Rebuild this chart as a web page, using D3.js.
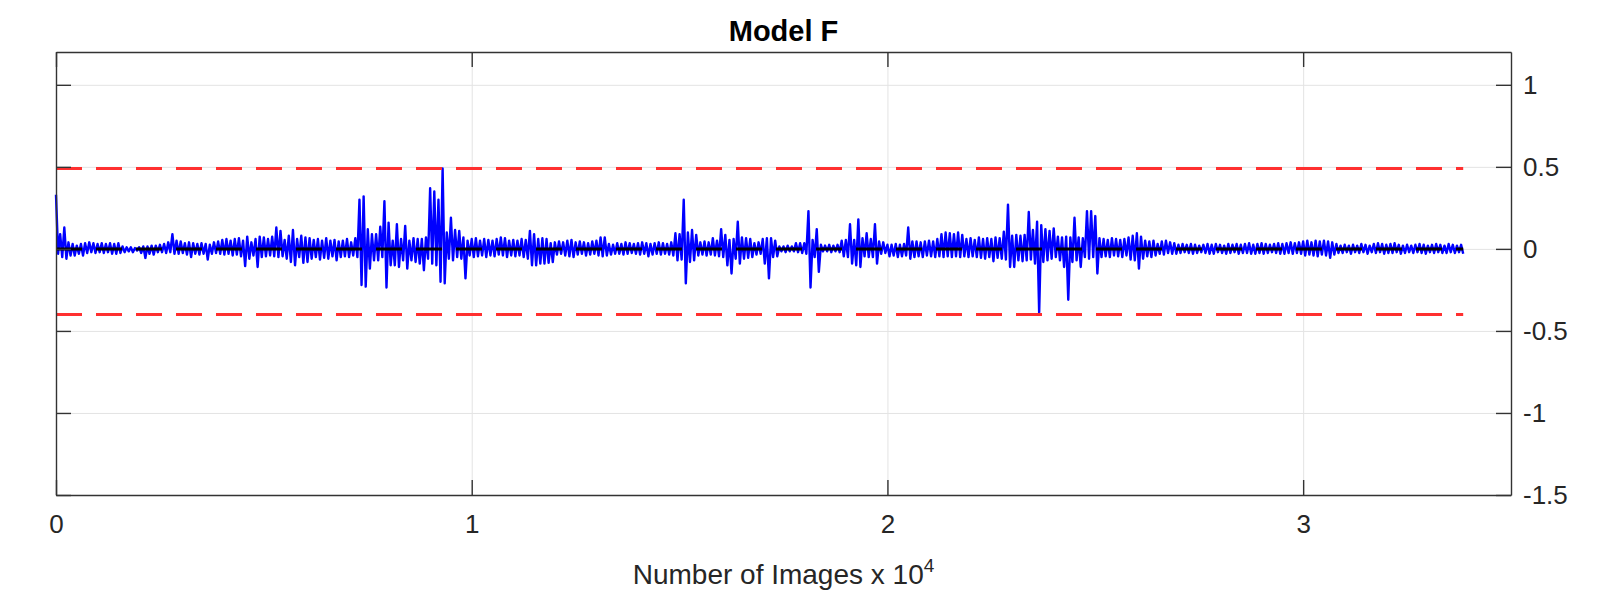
<!DOCTYPE html>
<html>
<head>
<meta charset="utf-8">
<script src="https://cdn.jsdelivr.net/npm/d3@7"></script>
<style>
body { margin: 0; background: #fff; }
text { font-family: "Liberation Sans", Arial, Helvetica, sans-serif; }
</style>
</head>
<body>
<svg id="chart"></svg>
<script>
const width = 1607;
const height = 592;

// tick values: x in units of 10^4 images
const xTicks = [0, 1, 2, 3];
const yTicks = [-1.5, -1, -0.5, 0, 0.5, 1];

// dashed reference levels
const upperLimit = 0.49;
const lowerLimit = -0.4;
const zeroLevel = 0;

// blue trace: highest and lowest value in each bin of 100 images
const binSize = 100;
const binHigh = [
  0.33,0.09,0.13,0.04,0.03,0.02,0.03,0.035,0.04,0.035,
  0.03,0.035,0.03,0.035,0.03,0.035,0.015,0.01,0.01,0.005,
  0.01,0.015,0.015,0.02,0.02,0.025,0.03,0.04,0.09,0.05,
  0.045,0.035,0.04,0.035,0.03,0.035,0.03,0.025,0.04,0.045,
  0.055,0.06,0.05,0.06,0.065,0.05,0.075,0.04,0.06,0.075,
  0.07,0.06,0.075,0.13,0.11,0.055,0.08,0.115,0.06,0.08,
  0.07,0.065,0.055,0.06,0.05,0.065,0.05,0.055,0.045,0.05,
  0.06,0.04,0.065,0.30,0.32,0.12,0.09,0.09,0.135,0.29,
  0.16,0.05,0.15,0.06,0.14,0.05,0.065,0.06,0.06,0.07,
  0.37,0.35,0.30,0.49,0.10,0.19,0.115,0.11,0.07,0.05,
  0.06,0.065,0.05,0.06,0.055,0.05,0.06,0.07,0.065,0.05,
  0.055,0.05,0.06,0.055,0.11,0.09,0.06,0.065,0.06,0.035,
  0.04,0.045,0.04,0.05,0.055,0.04,0.045,0.04,0.035,0.045,
  0.05,0.07,0.07,0.03,0.025,0.035,0.03,0.04,0.035,0.03,
  0.035,0.04,0.035,0.03,0.035,0.04,0.035,0.03,0.04,0.095,
  0.09,0.30,0.10,0.115,0.085,0.04,0.045,0.04,0.065,0.05,
  0.12,0.085,0.055,0.06,0.165,0.07,0.065,0.06,0.035,0.04,
  0.06,0.065,0.065,0.05,0.015,0.015,0.02,0.015,0.035,0.035,
  0.035,0.23,0.055,0.12,0.025,0.02,0.025,0.02,0.025,0.05,
  0.055,0.15,0.055,0.18,0.065,0.095,0.06,0.15,0.045,0.04,
  0.025,0.025,0.03,0.025,0.03,0.13,0.045,0.045,0.04,0.045,
  0.05,0.045,0.06,0.09,0.1,0.095,0.09,0.1,0.085,0.06,
  0.065,0.055,0.07,0.06,0.065,0.06,0.07,0.065,0.105,0.27,
  0.08,0.085,0.08,0.085,0.225,0.115,0.165,0.145,0.12,0.11,
  0.125,0.075,0.07,0.075,0.07,0.19,0.07,0.065,0.23,0.23,
  0.2,0.065,0.06,0.055,0.065,0.06,0.055,0.06,0.07,0.08,
  0.095,0.075,0.05,0.045,0.05,0.03,0.045,0.05,0.04,0.035,
  0.025,0.03,0.025,0.03,0.025,0.02,0.025,0.03,0.025,0.03,
  0.025,0.02,0.03,0.025,0.03,0.025,0.03,0.035,0.025,0.03,
  0.035,0.03,0.025,0.03,0.035,0.03,0.035,0.04,0.035,0.04,
  0.045,0.05,0.04,0.05,0.045,0.05,0.045,0.04,0.03,0.02,
  0.025,0.02,0.025,0.02,0.03,0.025,0.02,0.03,0.035,0.03,
  0.025,0.03,0.035,0.025,0.02,0.025,0.02,0.025,0.03,0.025,
  0.02,0.025,0.03,0.025,0.02,0.03,0.025,0.02,0.025
];
const binLow = [
  -0.03,-0.05,-0.06,-0.04,-0.04,-0.03,-0.04,-0.025,-0.02,-0.025,
  -0.02,-0.025,-0.02,-0.03,-0.03,-0.025,-0.02,-0.015,-0.02,-0.01,
  -0.025,-0.055,-0.03,-0.035,-0.02,-0.02,-0.025,-0.02,-0.03,-0.03,
  -0.025,-0.035,-0.05,-0.03,-0.035,-0.03,-0.065,-0.03,-0.025,-0.03,
  -0.035,-0.03,-0.04,-0.035,-0.045,-0.105,-0.06,-0.04,-0.11,-0.05,
  -0.045,-0.04,-0.045,-0.05,-0.045,-0.06,-0.08,-0.1,-0.05,-0.085,
  -0.08,-0.06,-0.05,-0.065,-0.055,-0.06,-0.045,-0.07,-0.05,-0.045,
  -0.05,-0.04,-0.05,-0.22,-0.23,-0.12,-0.07,-0.07,-0.05,-0.235,
  -0.1,-0.1,-0.11,-0.07,-0.12,-0.07,-0.08,-0.09,-0.13,-0.06,
  -0.09,-0.1,-0.2,-0.21,-0.06,-0.07,-0.05,-0.06,-0.18,-0.04,
  -0.05,-0.045,-0.04,-0.05,-0.04,-0.045,-0.035,-0.04,-0.05,-0.04,
  -0.045,-0.04,-0.05,-0.06,-0.1,-0.1,-0.09,-0.09,-0.085,-0.08,
  -0.035,-0.03,-0.04,-0.045,-0.05,-0.035,-0.03,-0.04,-0.035,-0.03,
  -0.04,-0.045,-0.04,-0.035,-0.03,-0.03,-0.035,-0.03,-0.025,-0.03,
  -0.035,-0.03,-0.045,-0.035,-0.03,-0.035,-0.03,-0.035,-0.04,-0.07,
  -0.065,-0.21,-0.08,-0.07,-0.04,-0.035,-0.04,-0.035,-0.04,-0.045,
  -0.05,-0.1,-0.15,-0.06,-0.09,-0.06,-0.055,-0.05,-0.035,-0.03,
  -0.09,-0.18,-0.05,-0.045,-0.015,-0.02,-0.015,-0.015,-0.02,-0.025,
  -0.03,-0.235,-0.05,-0.14,-0.015,-0.015,-0.02,-0.015,-0.02,-0.045,
  -0.05,-0.09,-0.1,-0.11,-0.045,-0.05,-0.05,-0.09,-0.03,-0.025,
  -0.045,-0.04,-0.05,-0.045,-0.04,-0.06,-0.05,-0.045,-0.05,-0.04,
  -0.045,-0.05,-0.045,-0.05,-0.045,-0.05,-0.045,-0.05,-0.045,-0.05,
  -0.045,-0.05,-0.055,-0.06,-0.05,-0.075,-0.055,-0.06,-0.065,-0.11,
  -0.11,-0.07,-0.075,-0.07,-0.065,-0.09,-0.39,-0.08,-0.07,-0.06,
  -0.05,-0.07,-0.11,-0.31,-0.08,-0.07,-0.11,-0.05,-0.06,-0.05,
  -0.15,-0.05,-0.045,-0.05,-0.04,-0.045,-0.05,-0.04,-0.065,-0.07,
  -0.12,-0.06,-0.045,-0.05,-0.04,-0.03,-0.035,-0.025,-0.03,-0.03,
  -0.025,-0.02,-0.025,-0.03,-0.025,-0.02,-0.025,-0.03,-0.03,-0.02,
  -0.025,-0.03,-0.025,-0.02,-0.03,-0.025,-0.025,-0.03,-0.03,-0.025,
  -0.03,-0.025,-0.02,-0.025,-0.03,-0.03,-0.025,-0.03,-0.025,-0.03,
  -0.04,-0.035,-0.04,-0.045,-0.035,-0.04,-0.055,-0.035,-0.025,-0.025,
  -0.02,-0.03,-0.02,-0.025,-0.02,-0.03,-0.02,-0.025,-0.02,-0.03,
  -0.025,-0.025,-0.02,-0.03,-0.025,-0.02,-0.025,-0.02,-0.025,-0.03,
  -0.02,-0.025,-0.02,-0.025,-0.025,-0.02,-0.025,-0.02,-0.03
];

const margin = {top: 52, right: 96, bottom: 97, left: 56};
const innerW = width - margin.left - margin.right;
const innerH = height - margin.top - margin.bottom;

const svg = d3.select('#chart')
  .attr('width', width)
  .attr('height', height)
  .style('background', '#fff');

const g = svg.append('g')
  .attr('transform', `translate(${margin.left},${margin.top})`);

const x = d3.scaleLinear().domain([0, 35000]).range([0, innerW]);
const y = d3.scaleLinear().domain([-1.5, 1.2]).range([innerH, 0]);

// trace visits the high then the low of each bin
const points = [];
binHigh.forEach((v, i) => {
  points.push([i * binSize, v]);
  points.push([i * binSize + binSize / 2, binLow[i]]);
});
const xEnd = points[points.length - 1][0];

// grid
g.append('g').attr('class', 'grid')
  .attr('transform', `translate(0,${innerH})`)
  .call(d3.axisBottom(x).tickValues(xTicks.map(d => d * 1e4)).tickSize(-innerH).tickFormat(''))
  .call(s => s.select('.domain').remove())
  .selectAll('line').attr('stroke', '#e3e3e3');
g.append('g').attr('class', 'grid')
  .call(d3.axisLeft(y).tickValues(yTicks).tickSize(-innerW).tickFormat(''))
  .call(s => s.select('.domain').remove())
  .selectAll('line').attr('stroke', '#e3e3e3');

const line = d3.line().x(d => x(d[0])).y(d => y(d[1]));

g.append('path')
  .datum(points)
  .attr('fill', 'none')
  .attr('stroke', '#0000ff')
  .attr('stroke-width', 2.4)
  .attr('stroke-linejoin', 'round')
  .attr('d', line);

// dashed levels
const levels = [
  {v: zeroLevel, c: '#000000'},
  {v: upperLimit, c: '#ff3030'},
  {v: lowerLimit, c: '#ff3030'}
];
g.selectAll('.level').data(levels).join('path')
  .attr('class', 'level')
  .attr('fill', 'none')
  .attr('stroke', d => d.c)
  .attr('stroke-width', 3)
  .attr('stroke-dasharray', '26,14')
  .attr('d', d => line([[0, d.v], [xEnd, d.v]]));

// axes box with inward ticks
const axisColor = '#333333';
function styleAxis(s) {
  s.select('.domain').attr('stroke', axisColor).attr('stroke-width', 1.4);
  s.selectAll('.tick line').attr('stroke', axisColor).attr('stroke-width', 1.4);
  s.selectAll('.tick text')
    .attr('fill', '#262626')
    .style('font-size', '26px')
    .style('font-family', '"Liberation Sans", Arial, Helvetica, sans-serif');
}

g.append('g')
  .attr('transform', `translate(0,${innerH})`)
  .call(d3.axisBottom(x).tickValues(xTicks.map(d => d * 1e4))
    .tickFormat(d => String(d / 1e4)).tickSizeInner(-15).tickSizeOuter(0).tickPadding(20))
  .call(styleAxis);

g.append('g')
  .call(d3.axisTop(x).tickValues(xTicks.map(d => d * 1e4))
    .tickFormat('').tickSizeInner(-15).tickSizeOuter(0))
  .call(styleAxis);

g.append('g')
  .call(d3.axisLeft(y).tickValues(yTicks)
    .tickFormat('').tickSizeInner(-15).tickSizeOuter(0))
  .call(styleAxis);

g.append('g')
  .attr('transform', `translate(${innerW},0)`)
  .call(d3.axisRight(y).tickValues(yTicks)
    .tickFormat(d => String(d)).tickSizeInner(-15).tickSizeOuter(0).tickPadding(12))
  .call(styleAxis);

// title
svg.append('text')
  .attr('x', margin.left + innerW / 2)
  .attr('y', 41)
  .attr('text-anchor', 'middle')
  .attr('fill', '#000')
  .style('font-size', '29px')
  .style('font-weight', 'bold')
  .text('Model F');

// x label with superscript
const xl = svg.append('text')
  .attr('x', margin.left + innerW / 2)
  .attr('y', 584)
  .attr('text-anchor', 'middle')
  .attr('fill', '#262626')
  .style('font-size', '28px');
xl.append('tspan').text('Number of Images x 10');
xl.append('tspan').attr('dy', -12).style('font-size', '19px').text('4');
</script>
</body>
</html>
